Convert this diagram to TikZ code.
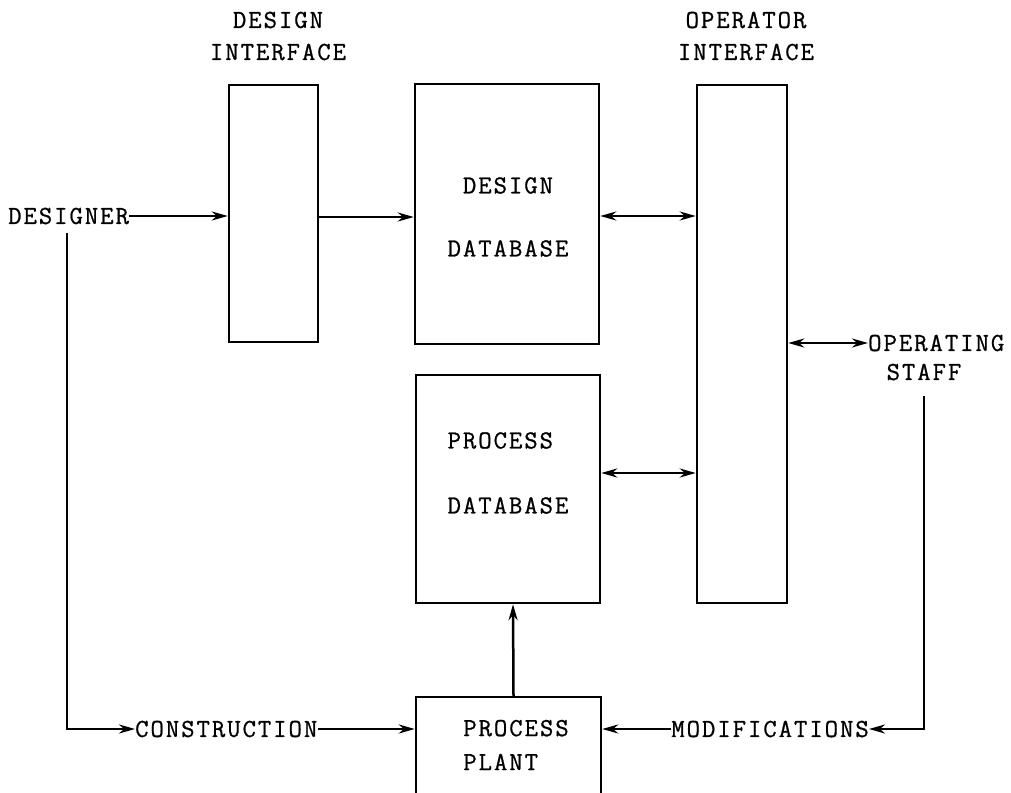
\documentclass[tikz,border=0pt]{standalone}
\usepackage{fontspec}
\newfontfamily\typer[LetterSpace=7.5,FakeBold=0.8]{Latin Modern Mono}
\usetikzlibrary{arrows.meta}
\begin{document}
\begin{tikzpicture}[x=1pt,y=-1pt,
  box/.style={draw, line width=2.5pt, inner sep=0pt},
  txt/.style={font=\fontsize{26}{32}\selectfont\typer, inner sep=0pt, align=center},
  tip/.tip={Stealth[length=16pt,width=9pt]},
  arr/.style={line width=2.5pt, -tip},
  darr/.style={line width=2.5pt, tip-tip}]
\useasboundingbox (0,0) rectangle (1011,792);

% blocks
\node[box, minimum width=89pt, minimum height=257pt] (di) at (273.5,213.5) {};
\node[box, minimum width=184pt, minimum height=260pt] (ddb) at (507,214) {};
\node[box, minimum width=90pt, minimum height=518pt] (oi) at (742,344) {};
\node[box, minimum width=184pt, minimum height=228pt] (pdb) at (508,489) {};
\node[box, minimum width=185pt, minimum height=102pt] (pp) at (508.5,748) {};

% block titles and contents
\node[txt] (ditxt) at (278,36) {DESIGN\\INTERFACE};
\node[txt] (oitxt) at (746,36) {OPERATOR\\INTERFACE};
\node[txt, font=\fontsize{26}{63}\selectfont\typer] (ddbtxt) at (508,217) {DESIGN\\DATABASE};
\node[txt, align=left, font=\fontsize{26}{65}\selectfont\typer] (pdbtxt) at (508,473) {PROCESS\\DATABASE};
\node[txt, align=left, font=\fontsize{26}{34}\selectfont\typer] (pptxt) at (516,745) {PROCESS\\PLANT};

% outside parties
\node[txt, anchor=west] (designer) at (8,216) {DESIGNER};
\node[txt, anchor=west] (cons) at (135,729) {CONSTRUCTION};
\node[txt, anchor=east] (modif) at (869,729) {MODIFICATIONS};
\node[txt, anchor=west] (opst) at (868,343) {OPERATING};
\node[txt] (staff) at (924,372) {STAFF};

% turning points
\coordinate (dturn) at (67,729);
\coordinate (sturn) at (924,729);

% connectors
\draw[arr] (designer.east) -- (designer.east -| di.west);
\draw[arr] ([yshift=-3.5pt]di.east) -- ([yshift=-3.5pt]di.east -| ddb.west);
\draw[darr] ([yshift=-2pt]ddb.east) -- ([yshift=-2pt]ddb.east -| oi.west);
\draw[darr] ([yshift=16pt]pdb.east) -- ([yshift=16pt]pdb.east -| oi.west);
\draw[darr] (opst.west -| oi.east) -- (opst.west);
\draw[arr] ([xshift=5pt]pp.north) -- ([xshift=5pt]pdb.south);
\draw[arr] ([yshift=-9pt]designer.south -| dturn) -- (dturn) -- (cons.west);
\draw[arr] (cons.east) -- (cons.east -| pp.west);
\draw[arr] (modif.west) -- (modif.west -| pp.east);
\draw[arr] ([yshift=-16pt]staff.south) -- (sturn) -- (modif.east);
\end{tikzpicture}
\end{document}
